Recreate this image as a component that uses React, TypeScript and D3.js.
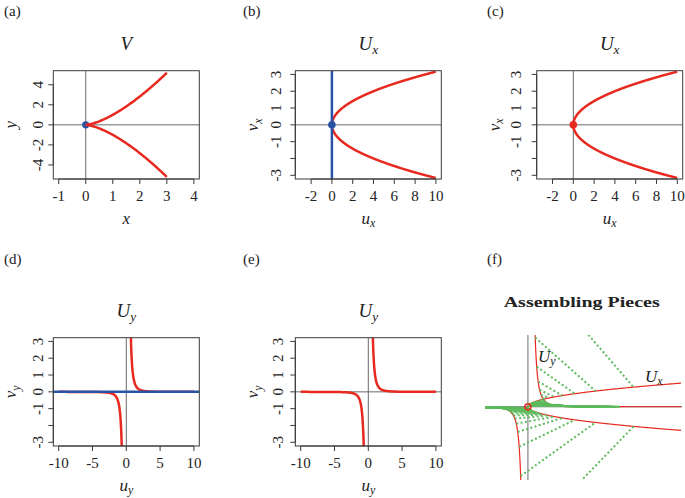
import React from "react";
import * as d3 from "d3";

// ---- values ----
const panelLabels = ["(a)", "(b)", "(c)", "(d)", "(e)", "(f)"];
const vXTicks = [-1, 0, 1, 2, 3, 4];
const vYTicks = [-4, -2, 0, 2, 4];
const uxXTicks = [-2, 0, 2, 4, 6, 8, 10];
const uYTicks = [-3, -2, -1, 0, 1, 2, 3];
const uYTickLabels = ["-3", "", "-1", "0", "1", "2", "3"]; // R dropped the -2 label
const uyXTicks = [-10, -5, 0, 5, 10];
const fTitle = "Assembling Pieces";

// curve parameters (the curves are y^2 = x^3 and its two blow-up charts)
const cuspX = d3.range(0, 3.0001, 0.025);
const parabolaV = d3.range(-316, 317).map((i) => i / 100);
const uyNeg = d3.range(-10, -0.19, 0.01);
const uyPos = d3.range(0.2, 10.0001, 0.01);
const gluingU = d3.range(127).map((i) => -6 + (12 * i) / 126).filter((u) => Math.abs(u) > 1e-6);

const RED = "#e8291f";
const BLUE = "#2a52a6";
const GREEN = "#5dbb5d";
const AXIS = "#6a6a6a";
const BOX = "#3a3a3a";
const TXT = { fontFamily: '"Liberation Serif"' };

const Sub = ({ base, sub, size }) => (
  <>
    <tspan fontStyle="italic">{base}</tspan>
    <tspan fontStyle="italic" fontSize={size * 0.7} dy={size * 0.22}>
      {sub}
    </tspan>
  </>
);

const cols = [53.3, 295.3, 536.7];
const rows = [70.7, 337.7];
const boxW = 146;
const boxH = 108.3;

function Panel({ id, left, top, xDomain, yDomain, xTicks, yTicks, yTickLabels, yTickOff, title, xLabel, yLabel, children }) {
  const x = d3.scaleLinear().domain(xDomain).range([left, left + boxW]);
  const y = d3.scaleLinear().domain(yDomain).range([top + boxH, top]);
  const bottom = top + boxH;
  return (
    <g>
      <defs>
        <clipPath id={id}>
          <rect x={left} y={top} width={boxW} height={boxH} />
        </clipPath>
      </defs>
      <g clipPath={`url(#${id})`}>
        <line x1={left} x2={left + boxW} y1={y(0)} y2={y(0)} stroke={AXIS} strokeWidth={1} />
        <line x1={x(0)} x2={x(0)} y1={top} y2={bottom} stroke={AXIS} strokeWidth={1} />
        {children(x, y)}
      </g>
      <rect x={left} y={top} width={boxW} height={boxH} fill="none" stroke={BOX} strokeWidth={1} />
      {/* x axis */}
      <line x1={x(xTicks[0])} x2={x(xTicks[xTicks.length - 1])} y1={bottom} y2={bottom} stroke={BOX} />
      {xTicks.map((t) => (
        <g key={"x" + t}>
          <line x1={x(t)} x2={x(t)} y1={bottom} y2={bottom + 5} stroke={BOX} />
          <text x={x(t)} y={bottom + 21.7} textAnchor="middle" fontSize={15} fill="#222" style={TXT}>
            {t}
          </text>
        </g>
      ))}
      {/* y axis */}
      <line x1={left} x2={left} y1={y(yTicks[0])} y2={y(yTicks[yTicks.length - 1])} stroke={BOX} />
      {yTicks.map((t, i) => (
        <g key={"y" + t}>
          <line x1={left - 5} x2={left} y1={y(t)} y2={y(t)} stroke={BOX} />
          <text transform={`translate(${left - yTickOff},${y(t)}) rotate(-90)`} textAnchor="middle" fontSize={15} fill="#222" style={TXT}>
            {yTickLabels ? yTickLabels[i] : t}
          </text>
        </g>
      ))}
      <text x={left + boxW / 2} y={top - 20.5} textAnchor="middle" fontSize={19} fill="#222" style={TXT}>
        {title}
      </text>
      <text x={left + boxW / 2} y={bottom + 44.5} textAnchor="middle" fontSize={17} fill="#222" style={TXT}>
        {xLabel}
      </text>
      <text transform={`translate(${left - 37},${top + boxH / 2}) rotate(-90)`} textAnchor="middle" fontSize={17} fill="#222" style={TXT}>
        {yLabel}
      </text>
    </g>
  );
}

const lineOf = (x, y) => d3.line().x((d) => x(d[0])).y((d) => y(d[1]));

function AssemblingPanel() {
  const x = d3.scaleLinear().domain([-2.8, 10.05]).range([485, 682]);
  const y = d3.scaleLinear().domain([-9.8, 9.6]).range([480, 335]);
  const ln = lineOf(x, y);
  const ux = parabolaV.map((v) => [v * v, v]);
  return (
    <g>
      <text x={581.7} y={307} textAnchor="middle" fontSize={15} fontWeight="bold" textLength={156} lengthAdjust="spacingAndGlyphs" fill="#222" style={TXT}>
        {fTitle}
      </text>
      <defs>
        <clipPath id="clip-f">
          <rect x={485} y={335} width={197} height={145} />
        </clipPath>
      </defs>
      <g clipPath="url(#clip-f)">
        <line x1={485} x2={682} y1={y(0)} y2={y(0)} stroke={AXIS} />
        <line x1={x(0)} x2={x(0)} y1={335} y2={480} stroke={AXIS} />
        <path d={ln(ux)} fill="none" stroke={RED} strokeWidth={1.2} />
        <path d={ln(uyNeg.map((u) => [u, 1 / (u * u * u)]))} fill="none" stroke={RED} strokeWidth={1.2} />
        <path d={ln(uyPos.map((u) => [u, 1 / (u * u * u)]))} fill="none" stroke={RED} strokeWidth={1.2} />
        {gluingU.map((u, i) => (
          <line
            key={i}
            x1={x(u)}
            y1={y(1 / (u * u * u))}
            x2={x(1 / (u * u))}
            y2={y(1 / u)}
            stroke={GREEN}
            strokeWidth={2}
            strokeDasharray="2,2.4"
          />
        ))}
        <circle cx={x(0)} cy={y(0)} r={3} fill="none" stroke={RED} strokeWidth={1.6} />
      </g>
      <text x={538} y={361.7} fontSize={17} fill="#222" style={TXT}>
        <Sub base="U" sub="y" size={17} />
      </text>
      <text x={645} y={381.7} fontSize={17} fill="#222" style={TXT}>
        <Sub base="U" sub="x" size={17} />
      </text>
    </g>
  );
}

export default function App() {
  const uxTitle = <Sub base="U" sub="x" size={19} />;
  const uyTitle = <Sub base="U" sub="y" size={19} />;
  const parabola = parabolaV.map((v) => [v * v, v]);
  const uyN = uyNeg.map((u) => [u, 1 / (u * u * u)]);
  const uyP = uyPos.map((u) => [u, 1 / (u * u * u)]);
  const labelX = [4, 243, 487];
  const labelY = [15.5, 264];

  return (
    <svg width={685} height={498} style={{ position: "absolute", left: 0, top: 0, background: "#fff" }}>
      {panelLabels.map((l, i) => (
        <text key={l} x={labelX[i % 3]} y={labelY[Math.floor(i / 3)]} fontSize={15} fill="#222" style={TXT}>
          {l}
        </text>
      ))}

      {/* (a) V */}
      <Panel
        id="clip-a"
        left={cols[0]}
        top={rows[0]}
        xDomain={[-1.2, 4.2]}
        yDomain={[-5.4, 5.4]}
        xTicks={vXTicks}
        yTicks={vYTicks}
        yTickOff={10}
        title={<tspan fontStyle="italic">V</tspan>}
        xLabel={<tspan fontStyle="italic">x</tspan>}
        yLabel={<tspan fontStyle="italic">y</tspan>}
      >
        {(x, y) => (
          <>
            <circle cx={x(0)} cy={y(0)} r={3.6} fill={BLUE} />
            <path d={lineOf(x, y)(cuspX.map((t) => [t, Math.pow(t, 1.5)]))} fill="none" stroke={RED} strokeWidth={2.5} />
            <path d={lineOf(x, y)(cuspX.map((t) => [t, -Math.pow(t, 1.5)]))} fill="none" stroke={RED} strokeWidth={2.5} />
          </>
        )}
      </Panel>

      {/* (b) U_x with exceptional divisor */}
      <Panel
        id="clip-b"
        left={cols[1]}
        top={rows[0]}
        xDomain={[-3.52, 10.52]}
        yDomain={[-3.22, 3.22]}
        xTicks={uxXTicks}
        yTicks={uYTicks}
        yTickLabels={uYTickLabels}
        yTickOff={14}
        title={uxTitle}
        xLabel={<Sub base="u" sub="x" size={17} />}
        yLabel={<Sub base="v" sub="x" size={17} />}
      >
        {(x, y) => (
          <>
            <path d={lineOf(x, y)(parabola)} fill="none" stroke={RED} strokeWidth={2.5} />
            <line x1={x(0)} x2={x(0)} y1={rows[0]} y2={rows[0] + boxH} stroke={BLUE} strokeWidth={2.5} />
            <circle cx={x(0)} cy={y(0)} r={3.8} fill={BLUE} />
          </>
        )}
      </Panel>

      {/* (c) U_x */}
      <Panel
        id="clip-c"
        left={cols[2]}
        top={rows[0]}
        xDomain={[-3.52, 10.52]}
        yDomain={[-3.22, 3.22]}
        xTicks={uxXTicks}
        yTicks={uYTicks}
        yTickLabels={uYTickLabels}
        yTickOff={16}
        title={uxTitle}
        xLabel={<Sub base="u" sub="x" size={17} />}
        yLabel={<Sub base="v" sub="x" size={17} />}
      >
        {(x, y) => (
          <>
            <path d={lineOf(x, y)(parabola)} fill="none" stroke={RED} strokeWidth={2.5} />
            <circle cx={x(0)} cy={y(0)} r={3.8} fill={RED} />
          </>
        )}
      </Panel>

      {/* (d) U_y with exceptional divisor */}
      <Panel
        id="clip-d"
        left={cols[0]}
        top={rows[1]}
        xDomain={[-10.8, 10.8]}
        yDomain={[-3.22, 3.22]}
        xTicks={uyXTicks}
        yTicks={uYTicks}
        yTickLabels={uYTickLabels}
        yTickOff={10}
        title={uyTitle}
        xLabel={<Sub base="u" sub="y" size={17} />}
        yLabel={<Sub base="v" sub="y" size={17} />}
      >
        {(x, y) => (
          <>
            <path d={lineOf(x, y)(uyN)} fill="none" stroke={RED} strokeWidth={2.5} />
            <path d={lineOf(x, y)(uyP)} fill="none" stroke={RED} strokeWidth={2.5} />
            <line x1={cols[0]} x2={cols[0] + boxW} y1={y(0)} y2={y(0)} stroke={BLUE} strokeWidth={2.5} />
          </>
        )}
      </Panel>

      {/* (e) U_y */}
      <Panel
        id="clip-e"
        left={cols[1]}
        top={rows[1]}
        xDomain={[-10.8, 10.8]}
        yDomain={[-3.22, 3.22]}
        xTicks={uyXTicks}
        yTicks={uYTicks}
        yTickLabels={uYTickLabels}
        yTickOff={12}
        title={uyTitle}
        xLabel={<Sub base="u" sub="y" size={17} />}
        yLabel={<Sub base="v" sub="y" size={17} />}
      >
        {(x, y) => (
          <>
            <path d={lineOf(x, y)(uyN)} fill="none" stroke={RED} strokeWidth={2.5} />
            <path d={lineOf(x, y)(uyP)} fill="none" stroke={RED} strokeWidth={2.5} />
          </>
        )}
      </Panel>

      {/* (f) */}
      <AssemblingPanel />
    </svg>
  );
}
